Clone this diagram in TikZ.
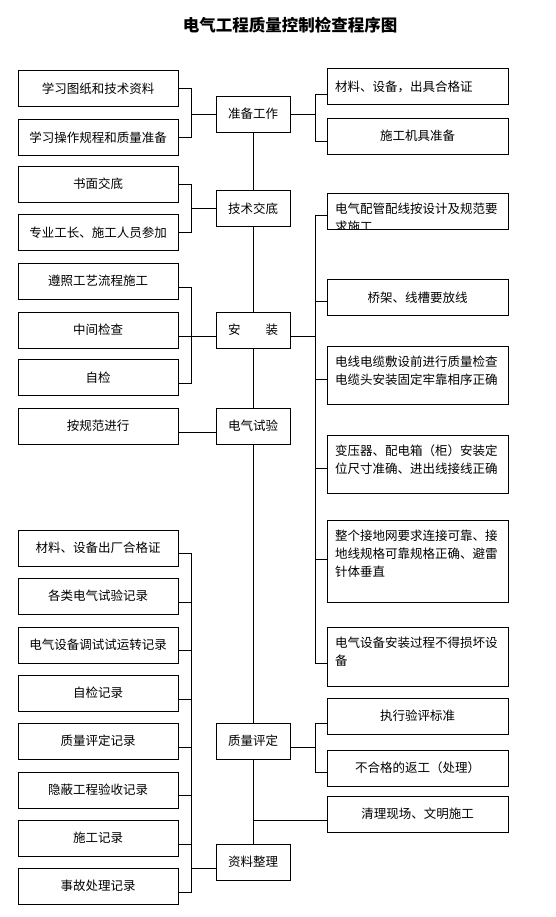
\documentclass[tikz,border=0pt]{standalone}
\usepackage{fontspec}
\setmainfont{Noto Sans CJK SC}
\usetikzlibrary{positioning}

\begin{document}
\begin{tikzpicture}[
    x=1pt, y=-1pt,
    box/.style={rectangle, draw=black, line width=0.8pt, outer sep=0pt, inner sep=0pt, minimum height=36pt, font=\fontsize{12.5}{18}\selectfont},
    lbox/.style={box, minimum width=160pt},
    cbox/.style={box, minimum width=74pt},
    rbox/.style={box, minimum width=181pt},
    % 右侧多行说明框，文字靠上左对齐
    tbox/.style={rbox, anchor=north, text width=165pt, align=left, inner xsep=8pt, inner ysep=9pt, text height=11.5pt},
    link/.style={line width=0.8pt}
  ]
  \useasboundingbox (0,0) rectangle (555,917);

  % --- 标题 ---
  \node[font=\fontsize{16.5}{20}\selectfont\bfseries] (title) at (290,25) {电气工程质量控制检查程序图};

  % --- 中间主线 ---
  \node[cbox] (c1) at (253,114) {准备工作};
  \node[cbox] (c2) at (253,208.5) {技术交底};
  \node[cbox] (c3) at (253,330) {安\hspace{2em}装};
  \node[cbox] (c4) at (253,426) {电气试验};
  \node[cbox] (c5) at (253,741) {质量评定};
  \node[cbox] (c6) at (253,862) {资料整理};

  % --- 左侧 ---
  \node[lbox] (l1) at (98,88.5) {学习图纸和技术资料};
  \node[lbox] (l2) at (98,137.5) {学习操作规程和质量准备};
  \node[lbox] (l3) at (98,184) {书面交底};
  \node[lbox] (l4) at (98,232.5) {专业工长、施工人员参加};
  \node[lbox] (l5) at (98,281) {遵照工艺流程施工};
  \node[lbox] (l6) at (98,330) {中间检查};
  \node[lbox] (l7) at (98,377.5) {自检};
  \node[lbox] (l8) at (98,426) {按规范进行};
  \node[lbox] (l9) at (98,548) {材料、设备出厂合格证};
  \node[lbox] (l10) at (98,596) {各类电气试验记录};
  \node[lbox] (l11) at (98,645) {电气设备调试试运转记录};
  \node[lbox] (l12) at (98,693) {自检记录};
  \node[lbox] (l13) at (98,741) {质量评定记录};
  \node[lbox] (l14) at (98,790) {隐蔽工程验收记录};
  \node[lbox] (l15) at (98,838) {施工记录};
  \node[lbox] (l16) at (98,886) {事故处理记录};

  % --- 右侧 ---
  \node[rbox, text width=165pt, align=left, inner xsep=8pt] (r1) at (417.5,86.5) {材料、设备，出具合格证};
  \node[rbox] (r2) at (417.5,136) {施工机具准备};
  \node[rbox, path picture={
      \node[anchor=north west, text width=165pt, align=left, inner xsep=8pt, inner ysep=9pt, text height=11.5pt, font=\fontsize{12.5}{18}\selectfont]
        at (path picture bounding box.north west) {电气配管配线按设计及规范要\\求施工};
    }] (r3) at (417.5,211) {};
  \node[rbox] (r4) at (417.5,297.5) {桥架、线槽要放线};
  \node[tbox, text depth=28.5pt] (r5) at (417.5,346) {电线电缆敷设前进行质量检查\\电缆头安装固定牢靠相序正确};
  \node[tbox, text depth=28.5pt] (r6) at (417.5,435) {变压器、配电箱（柜）安装定\\位尺寸准确、进出线接线正确};
  \node[tbox, text depth=52.5pt] (r7) at (417.5,520) {整个接地网要求连接可靠、接\\地线规格可靠规格正确、避雷\\针体垂直};
  \node[tbox, text depth=29.5pt] (r8) at (417.5,627) {电气设备安装过程不得损坏设\\备};
  \node[rbox] (r9) at (417.5,716) {执行验评标准};
  \node[rbox] (r10) at (417.5,768) {不合格的返工（处理）};
  \node[rbox] (r11) at (417.5,814) {清理现场、文明施工};

  % --- 汇线点 ---
  \coordinate (lb1) at (191,114);
  \coordinate (lb2) at (191,208.5);
  \coordinate (lb3) at (191,336);
  \coordinate (lb4) at (191,868);
  \coordinate (rb1) at (315,114);
  \coordinate (rb2) at (315,336);
  \coordinate (rb3) at (315,747);
  \coordinate (sp) at (253,820);

  % --- 主线连接 ---
  \draw[link] (c1) -- (c2) -- (c3) -- (c4) -- (c5) -- (c6);

  % --- 左侧连接 ---
  \draw[link] (c1.west) -- (lb1);
  \draw[link] (l1.east) -| (lb1);
  \draw[link] (l2.east) -| (lb1);
  \draw[link] (c2.west) -- (lb2);
  \draw[link] (l3.east) -| (lb2);
  \draw[link] (l4.east) -| (lb2);
  \draw[link] ([yshift=-6pt]l6.east) -- ([yshift=-6pt]c3.west);
  \draw[link] ([yshift=-6pt]l5.east) -| (lb3);
  \draw[link] ([yshift=-5.5pt]l7.east) -| (lb3);
  \draw[link] ([yshift=-6pt]l8.east) -- ([yshift=-6pt]c4.west);
  \draw[link] ([yshift=-6pt]c6.west) -- (lb4);
  \draw[link] ([yshift=-5pt]l9.east) -| (lb4);
  \draw[link] ([yshift=-6pt]l10.east) -| (lb4);
  \draw[link] ([yshift=-5pt]l11.east) -| (lb4);
  \draw[link] ([yshift=-6pt]l12.east) -| (lb4);
  \draw[link] ([yshift=-6pt]l13.east) -| (lb4);
  \draw[link] ([yshift=-5pt]l14.east) -| (lb4);
  \draw[link] ([yshift=-6pt]l15.east) -| (lb4);
  \draw[link] ([yshift=-6pt]l16.east) -| (lb4);

  % --- 右侧连接 ---
  \draw[link] (c1.east) -- (rb1);
  \draw[link] ([yshift=-7.5pt]r1.west) -| (rb1);
  \draw[link] ([yshift=-5.5pt]r2.west) -| (rb1);
  \draw[link] ([yshift=-6pt]c3.east) -- (rb2);
  \draw[link] ([yshift=-4pt]r3.west) -| (rb2);
  \draw[link] ([yshift=-3.5pt]r4.west) -| (rb2);
  \draw[link] ([yshift=-33pt]r5.north west) -| (rb2);
  \draw[link] ([yshift=-33pt]r6.north west) -| (rb2);
  \draw[link] ([yshift=-39pt]r7.north west) -| (rb2);
  \draw[link] ([yshift=-36pt]r8.north west) -| (rb2);
  \draw[link] ([yshift=-6pt]c5.east) -- (rb3);
  \draw[link] ([yshift=-7pt]r9.west) -| (rb3);
  \draw[link] ([yshift=-4pt]r10.west) -| (rb3);
  \draw[link] (sp) -- ([yshift=-6pt]r11.west);
\end{tikzpicture}
\end{document}
